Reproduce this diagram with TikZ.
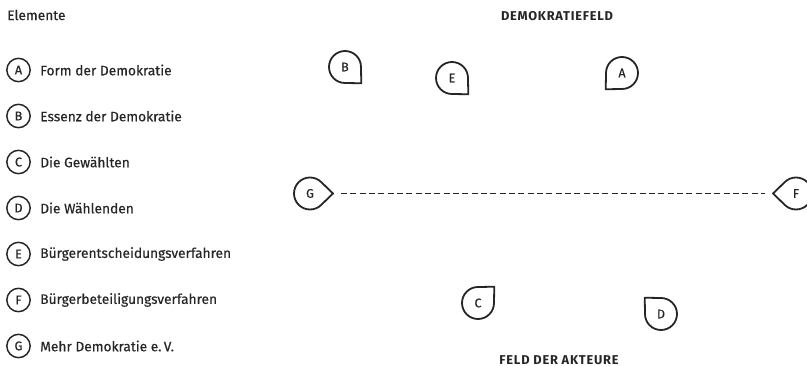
\documentclass[tikz,border=0pt]{standalone}
\usepackage{fontspec}
\setmainfont{Fira Sans}
\definecolor{ink}{HTML}{262626}
\begin{document}
\begin{tikzpicture}[x=0.75pt,y=0.75pt,
  legcirc/.style={circle,draw=ink,line width=1.1pt,minimum size=17.5pt,inner sep=0pt,font=\fontsize{9.5}{11}\selectfont\addfontfeatures{FakeBold=0.4},text=ink},
  legtext/.style={anchor=west,font=\fontsize{10.3}{12}\selectfont\addfontfeatures{FakeBold=0.4},text=ink,inner sep=0pt},
  drop/.style={circle,minimum size=24pt,inner sep=0pt,font=\fontsize{9.3}{11}\selectfont\addfontfeatures{FakeBold=0.4},text=ink},
  dropline/.style={draw=ink,line width=1.35pt,line join=round},
  title/.style={font=\bfseries\fontsize{9.6}{11}\selectfont\addfontfeatures{LetterSpace=6},text=ink,inner sep=0pt}]
\useasboundingbox (0,0) rectangle (807,-366);
\clip (0,0) rectangle (807,-366);
% legend
\node[legtext] (hdr) at (7,-15) {Elemente};
\foreach \l/\t/\y in {A/Form der Demokratie/70, B/Essenz der Demokratie/116, C/Die Gewählten/162, D/Die Wählenden/208, E/Bürgerentscheidungsverfahren/254, F/Bürgerbeteiligungsverfahren/300, G/Mehr Demokratie e.\,V./346}{
  \node[legcirc] (L\l) at (18.5,-\y) {\l};
  \node[legtext] (T\l) at (40,-\y) {\t};
}
% titles
\node[title] (top) at (557,-16) {DEMOKRATIEFELD};
\node[title] (bot) at (559,-360) {FELD DER AKTEURE};
% teardrops
\foreach \n/\x/\y/\a in {B/345/67/-45, E/452/78/-45, A/622/73/-135, G/310/193.5/0, F/796/193.5/180, C/478/303/45, D/661/314/135}{
  \node[drop] (\n) at (\x,-\y) {\n};
  \draw[dropline,shift={(\n.center)},rotate=\a] (23,0) coordinate (\n tip) -- (45:16) arc[start angle=45,end angle=315,radius=16] -- cycle;
}
\draw[draw=ink,line width=1pt,dash pattern=on 4.5pt off 2.5pt] ([xshift=6pt]Gtip) -- ([xshift=-6pt]Ftip);
\end{tikzpicture}
\end{document}
